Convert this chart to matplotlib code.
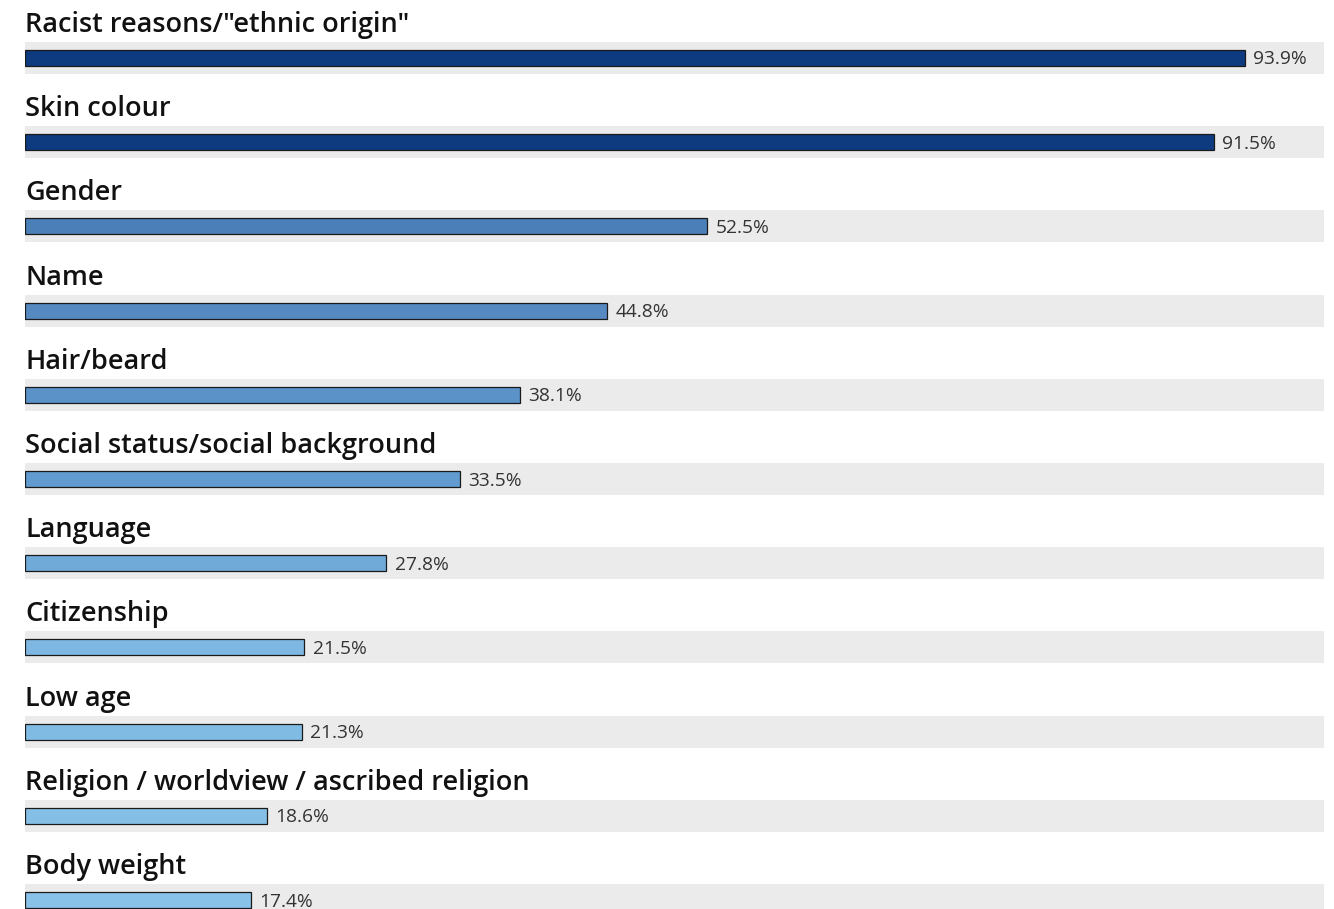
import matplotlib
matplotlib.use("Agg")
import matplotlib.pyplot as plt

categories = [
    'Racist reasons/"ethnic origin"',
    "Skin colour",
    "Gender",
    "Name",
    "Hair/beard",
    "Social status/social background",
    "Language",
    "Citizenship",
    "Low age",
    "Religion / worldview / ascribed religion",
    "Body weight",
]
values = [93.9, 91.5, 52.5, 44.8, 38.1, 33.5, 27.8, 21.5, 21.3, 18.6, 17.4]
bar_colors = [
    "#0e3a80", "#0e3a80",
    "#4b7fb8", "#5689c0", "#5b92c8", "#629bcf",
    "#70aad9", "#7eb8e2", "#80bbe4", "#86bfe6", "#89c2e8",
]

fig = plt.figure(figsize=(13.34, 9.09), dpi=100)
W, H = 1334, 909
left_px, right_px = 25, 1324
ax = fig.add_axes([left_px / W, 0, (right_px - left_px) / W, 1])

row_px = 84.2
first_center_px = 58
ax.set_xlim(0, 100)
ax.set_ylim((H - first_center_px) / row_px, -first_center_px / row_px)
ax.axis("off")

band_h = 32 / row_px
bar_h = 16 / row_px
label_off = 33 / row_px
value_shift = 1.5 / row_px

for i, (cat, v, c) in enumerate(zip(categories, values, bar_colors)):
    ax.barh(i, 100, height=band_h, color="#ebebeb", edgecolor="none", zorder=1)
    ax.barh(i, v, height=bar_h, color=c, edgecolor="#1a1a1a", linewidth=0.9, zorder=2)
    ax.text(0, i - label_off, cat, ha="left", va="center", fontsize=19.5,
            fontfamily="Open Sans", fontweight="semibold", color="#111111", zorder=3)
    ax.text(v + 0.65, i + value_shift, f"{v:.1f}%", ha="left", va="center",
            fontsize=13.8, fontfamily="Open Sans", color="#333333", zorder=3)

fig.savefig("out.png", dpi=100)
